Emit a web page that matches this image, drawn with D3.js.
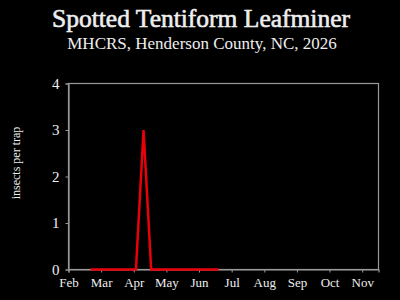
<!DOCTYPE html>
<html>
<head>
<meta charset="utf-8">
<script src="https://cdn.jsdelivr.net/npm/d3@7"></script>
<style>
  body { margin: 0; background: #000; }
  svg { display: block; }
  text { font-family: "Liberation Serif", "DejaVu Serif", serif; fill: #eee; }
</style>
</head>
<body>
<svg class="chart"></svg>
<script>
var months = ['Feb', 'Mar', 'Apr', 'May', 'Jun', 'Jul', 'Aug', 'Sep', 'Oct', 'Nov'];
var dates = ['2026-02-20', '2026-02-27', '2026-03-06', '2026-03-13', '2026-03-20', '2026-03-27',
  '2026-04-03', '2026-04-10', '2026-04-17', '2026-04-24', '2026-05-01', '2026-05-08',
  '2026-05-15', '2026-05-22', '2026-05-29', '2026-06-05', '2026-06-12', '2026-06-19'];
var counts = [0, 0, 0, 0, 0, 0, 0, 3, 0, 0, 0, 0, 0, 0, 0, 0, 0, 0];
var yTicks = [0, 1, 2, 3, 4];

// months are drawn evenly spaced, so turn a date into a month position (Feb = 0)
function monthPos(s) {
  var d = new Date(s + 'T00:00:00');
  var days = new Date(d.getFullYear(), d.getMonth() + 1, 0).getDate();
  return (d.getMonth() - 1) + (d.getDate() - 1) / days;
}

const W = 400, H = 300;
const svg = d3.select('svg.chart').attr('width', W).attr('height', H);
svg.append('rect').attr('width', W).attr('height', H).attr('fill', '#000');

const x = d3.scaleLinear().domain([0, 9.5]).range([68.5, 378.5]);
const y = d3.scaleLinear().domain([0, 4]).range([269.5, 83.5]);

// title is a bit heavier than regular, so give it a thin outline
svg.append('text').attr('x', 201).attr('y', 27).attr('text-anchor', 'middle')
  .style('font-size', '25.5px').attr('stroke', '#eee').attr('stroke-width', 0.6)
  .text('Spotted Tentiform Leafminer');
svg.append('text').attr('x', 202).attr('y', 49).attr('text-anchor', 'middle')
  .style('font-size', '17px').text('MHCRS, Henderson County, NC, 2026');
svg.append('text').attr('transform', 'translate(20,163) rotate(-90)').attr('text-anchor', 'middle')
  .style('font-size', '12px').text('insects per trap');

// frame
svg.append('rect').attr('x', x(0)).attr('y', y(4))
  .attr('width', x(9.5) - x(0)).attr('height', y(0) - y(4))
  .attr('fill', 'none').attr('stroke', '#999').attr('stroke-width', 1.2);

const xAxis = svg.append('g').attr('transform', 'translate(0,' + y(0) + ')')
  .call(d3.axisBottom(x).tickValues(d3.range(months.length)).tickFormat(i => months[i]).tickSize(3).tickPadding(5));
const yAxis = svg.append('g').attr('transform', 'translate(' + x(0) + ',0)')
  .call(d3.axisLeft(y).tickValues(yTicks).tickFormat(d3.format('d')).tickSize(3).tickPadding(6));
[xAxis, yAxis].forEach(function(a) {
  a.select('.domain').attr('stroke', '#999').attr('stroke-width', 1.2);
  a.selectAll('.tick line').attr('stroke', '#999');
  a.selectAll('text').attr('fill', '#eee').style('font-family', '"Liberation Serif", serif');
});
xAxis.selectAll('text').style('font-size', '13px');
yAxis.selectAll('text').style('font-size', '15px');

var pts = dates.map((d, i) => ({pos: monthPos(d), val: counts[i]}));
svg.append('path').datum(pts)
  .attr('d', d3.line().x(d => x(d.pos)).y(d => y(d.val)))
  .attr('fill', 'none').attr('stroke', '#e8000b').attr('stroke-width', 2.5)
  .attr('stroke-linejoin', 'miter');
</script>
</body>
</html>
